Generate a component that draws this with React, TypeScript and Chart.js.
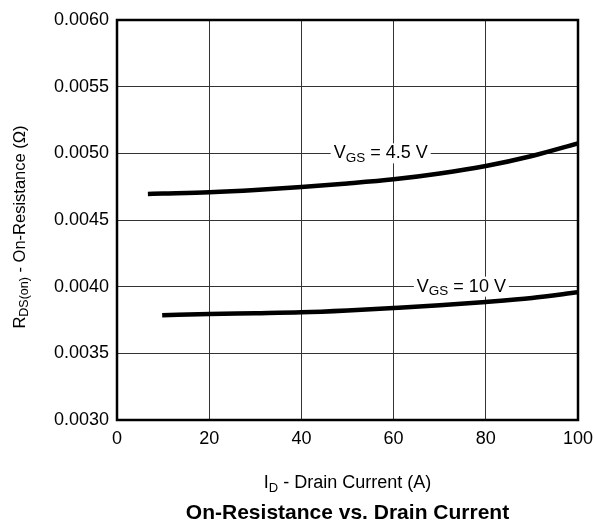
import React, { useEffect, useRef } from "react";
import { Chart, registerables } from "chart.js";

Chart.register(...registerables);

// ---- data ----
const currentVgs45 = [6.7, 10, 20, 30, 40, 50, 60, 70, 80, 90, 100];
const rdsVgs45 = [0.004695, 0.004698, 0.004708, 0.004725, 0.004748, 0.004774, 0.004805, 0.004849, 0.004905, 0.00498, 0.005075];

const currentVgs10 = [9.8, 20, 30, 40, 50, 60, 70, 80, 90, 100];
const rdsVgs10 = [0.003785, 0.003795, 0.003801, 0.003808, 0.003822, 0.00384, 0.00386, 0.003885, 0.003915, 0.003958];

const xTicks = [0, 20, 40, 60, 80, 100];
const yTicks = [0.003, 0.0035, 0.004, 0.0045, 0.005, 0.0055, 0.006];

const seriesLabels = [
  { main: "V", sub: "GS", rest: " = 4.5 V", x: 57.2, y: 0.005 },
  { main: "V", sub: "GS", rest: " = 10 V", x: 74.7, y: 0.004 },
];

const xTitle = { main: "I", sub: "D", rest: " - Drain Current (A)" };
const yTitle = { main: "R", sub: "DS(on)", rest: " - On-Resistance (\u03A9)" };
const chartTitle = "On-Resistance vs. Drain Current";

const FONT = "'Liberation Sans', Arial, Helvetica, sans-serif";

type Rich = { main: string; sub: string; rest: string };

function richWidth(ctx: CanvasRenderingContext2D, r: Rich, size: number, subSize: number) {
  ctx.font = `${size}px ${FONT}`;
  const w1 = ctx.measureText(r.main).width;
  const w3 = ctx.measureText(r.rest).width;
  ctx.font = `${subSize}px ${FONT}`;
  const w2 = ctx.measureText(r.sub).width;
  return w1 + w2 + w3;
}

function drawRich(ctx: CanvasRenderingContext2D, r: Rich, cx: number, cy: number, size: number, subSize: number, subShift: number) {
  const total = richWidth(ctx, r, size, subSize);
  let x = cx - total / 2;
  ctx.textBaseline = "middle";
  ctx.textAlign = "left";
  ctx.fillStyle = "#000";
  ctx.font = `${size}px ${FONT}`;
  ctx.fillText(r.main, x, cy);
  x += ctx.measureText(r.main).width;
  ctx.font = `${subSize}px ${FONT}`;
  ctx.fillText(r.sub, x, cy + subShift);
  x += ctx.measureText(r.sub).width;
  ctx.font = `${size}px ${FONT}`;
  ctx.fillText(r.rest, x, cy);
  return total;
}

const textPlugin = {
  id: "textPlugin",
  afterDatasetsDraw(chart: any) {
    const ctx: CanvasRenderingContext2D = chart.ctx;
    const { left, right, top, bottom } = chart.chartArea;
    const xs = chart.scales.x;
    const ys = chart.scales.y;
    ctx.save();
    for (const l of seriesLabels) {
      const cx = xs.getPixelForValue(l.x);
      const cy = ys.getPixelForValue(l.y);
      const w = richWidth(ctx, l, 18, 13.5);
      ctx.fillStyle = "#fff";
      ctx.fillRect(cx - w / 2 - 3, cy - 10, w + 6, 20);
      drawRich(ctx, l, cx, cy, 18, 13.5, 5);
    }
    ctx.restore();

    ctx.save();
    ctx.strokeStyle = "#000";
    ctx.lineWidth = 2.5;
    ctx.strokeRect(left, top, right - left, bottom - top);
    ctx.restore();
  },
  afterDraw(chart: any) {
    const ctx: CanvasRenderingContext2D = chart.ctx;
    const { left, right, top, bottom } = chart.chartArea;
    ctx.save();
    drawRich(ctx, xTitle, (left + right) / 2, bottom + 63, 18, 13, 5);
    ctx.font = `bold 21px ${FONT}`;
    ctx.textAlign = "center";
    ctx.textBaseline = "middle";
    ctx.fillStyle = "#000";
    ctx.fillText(chartTitle, (left + right) / 2, bottom + 93);
    ctx.translate(20, (top + bottom) / 2 + 7);
    ctx.rotate(-Math.PI / 2);
    drawRich(ctx, yTitle, 0, 0, 16.5, 12.5, 5);
    ctx.restore();
  },
};

export default function App() {
  const ref = useRef<HTMLCanvasElement | null>(null);
  useEffect(() => {
    if (!ref.current) return;
    const chart = new Chart(ref.current, {
      type: "line",
      data: {
        datasets: [
          {
            label: "VGS = 4.5 V",
            data: currentVgs45.map((x, i) => ({ x, y: rdsVgs45[i] })),
            borderColor: "#000",
            borderWidth: 4.5,
            pointRadius: 0,
            cubicInterpolationMode: "monotone",
            fill: false,
          },
          {
            label: "VGS = 10 V",
            data: currentVgs10.map((x, i) => ({ x, y: rdsVgs10[i] })),
            borderColor: "#000",
            borderWidth: 4.5,
            pointRadius: 0,
            cubicInterpolationMode: "monotone",
            fill: false,
          },
        ],
      },
      options: {
        animation: false,
        responsive: false,
        devicePixelRatio: 1,
        layout: { autoPadding: false, padding: { top: 20, right: 16, left: 8, bottom: 0 } },
        plugins: {
          legend: { display: false },
          tooltip: { enabled: false },
          title: { display: false },
        },
        scales: {
          x: {
            type: "linear",
            min: 0,
            max: 100,
            afterBuildTicks: (axis: any) => {
              axis.ticks = xTicks.map((v) => ({ value: v }));
            },
            ticks: {
              color: "#000",
              font: { family: FONT, size: 18 },
              padding: 8,
              maxRotation: 0,
              callback: (v: any) => String(v),
            },
            grid: { color: "#333", lineWidth: 1, drawTicks: false },
            border: { display: false },
            afterFit: (axis: any) => {
              axis.height = 105;
              axis.paddingLeft = 0;
              axis.paddingRight = 0;
              axis.paddingTop = 0;
              axis.paddingBottom = 0;
            },
          },
          y: {
            type: "linear",
            min: 0.003,
            max: 0.006,
            afterBuildTicks: (axis: any) => {
              axis.ticks = yTicks.map((v) => ({ value: v }));
            },
            ticks: {
              color: "#000",
              font: { family: FONT, size: 18 },
              padding: 8,
              callback: (v: any) => Number(v).toFixed(4),
            },
            grid: { color: "#333", lineWidth: 1, drawTicks: false },
            border: { display: false },
            afterFit: (axis: any) => {
              axis.width = 109;
              axis.paddingLeft = 0;
              axis.paddingRight = 0;
              axis.paddingTop = 0;
              axis.paddingBottom = 0;
            },
          },
        },
      } as any,
      plugins: [textPlugin],
    });
    return () => chart.destroy();
  }, []);
  return (
    <div style={{ position: "fixed", left: 0, top: 0, width: 594, height: 525 }}>
      <canvas ref={ref} width={594} height={525} style={{ display: "block" }} />
    </div>
  );
}
